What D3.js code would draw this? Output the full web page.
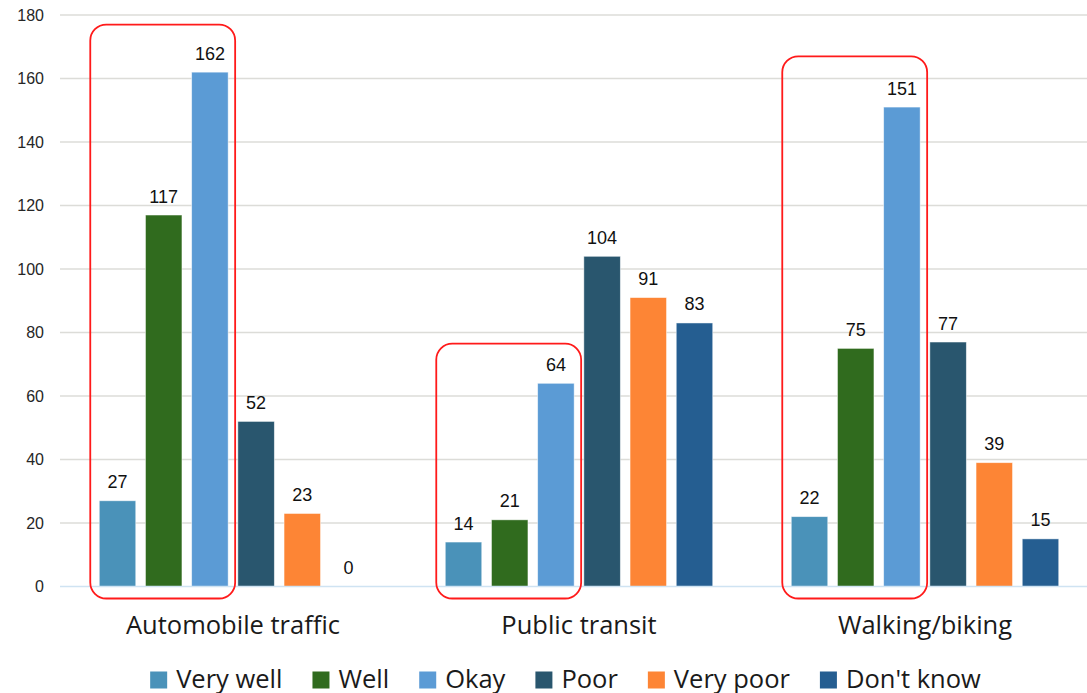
<!DOCTYPE html>
<html><head><meta charset="utf-8">
<script src="https://cdn.jsdelivr.net/npm/d3@7"></script>
<style>body{margin:0;background:#fff}svg{display:block}</style>
</head><body><svg id="c" width="1087" height="693"></svg>
<script>
const categories = ["Automobile traffic", "Public transit", "Walking/biking"];
const seriesNames = ["Very well", "Well", "Okay", "Poor", "Very poor", "Don't know"];
const veryWell = [27, 14, 22];
const well = [117, 21, 75];
const okay = [162, 64, 151];
const poor = [52, 104, 77];
const veryPoor = [23, 91, 39];
const dontKnow = [0, 83, 15];
const yTicks = [0, 20, 40, 60, 80, 100, 120, 140, 160, 180];
const highlightTop = [177, 76.5, 167]; // in value units
const colors = ["#4a92b9", "#306b1e", "#5b9bd5", "#29566e", "#fd8535", "#255e91"];

const seriesValues = [veryWell, well, okay, poor, veryPoor, dontKnow];
const svg = d3.select("#c");
const x0 = d3.scaleBand().domain(categories).range([60, 1098]).padding(0);
const x1 = d3.scaleBand().domain(seriesNames).range([0, x0.bandwidth()]).paddingInner(0.21).paddingOuter(0.85);
const y = d3.scaleLinear().domain([0, 180]).range([586.5, 15]);

// gridlines
svg.append("g").selectAll("line").data(yTicks.filter(d => d > 0)).join("line")
  .attr("x1", 60).attr("x2", 1087).attr("y1", d => y(d)).attr("y2", d => y(d))
  .attr("stroke", "#dcdcd8").attr("stroke-width", 1.5);

// y axis
const yAxis = d3.axisLeft(y).tickValues(yTicks).tickSize(0).tickPadding(0);
const ga = svg.append("g").attr("transform", "translate(44,0)").call(yAxis);
ga.select(".domain").remove();
ga.selectAll("text").attr("font-family", "Liberation Sans, Arial, sans-serif").attr("font-size", 16).attr("fill", "#262626");

// bars
const groups = svg.append("g").selectAll("g").data(categories).join("g")
  .attr("transform", d => `translate(${x0(d)},0)`);
groups.each(function(cat, ci) {
  const g = d3.select(this);
  const rows = seriesNames.map((s, si) => ({s, si, v: seriesValues[si][ci]}));
  g.selectAll("rect").data(rows).join("rect")
    .attr("x", d => x1(d.s)).attr("width", x1.bandwidth())
    .attr("y", d => y(d.v)).attr("height", d => y(0) - y(d.v))
    .attr("fill", d => colors[d.si])
    .attr("stroke", "rgba(255,255,255,0.6)").attr("stroke-width", d => d.v > 0 ? 0.8 : 0);
  g.selectAll("text.lbl").data(rows).join("text").attr("class", "lbl")
    .attr("x", d => x1(d.s) + x1.bandwidth() / 2).attr("y", d => y(d.v) - 12.5)
    .attr("text-anchor", "middle").attr("font-family", "Liberation Sans, Arial, sans-serif")
    .attr("font-size", 18).attr("fill", "#111").text(d => d.v);
});

// baseline
svg.append("line").attr("x1", 60).attr("x2", 1087).attr("y1", y(0)).attr("y2", y(0))
  .attr("stroke", "#cfe3f2").attr("stroke-width", 1.5);

// highlight boxes around first three bars
categories.forEach((cat, ci) => {
  const left = x0(cat) + x1(seriesNames[0]) - 9;
  const right = x0(cat) + x1(seriesNames[2]) + x1.bandwidth() + 7;
  const top = y(highlightTop[ci]);
  const bottom = y(0) + 12;
  svg.append("rect").attr("x", left).attr("y", top).attr("width", right - left).attr("height", bottom - top)
    .attr("rx", 16).attr("ry", 16).attr("fill", "none").attr("stroke", "#ff1a1a").attr("stroke-width", 1.8);
});

// category labels
svg.append("g").selectAll("text").data(categories).join("text")
  .attr("x", d => x0(d) + x0.bandwidth() / 2).attr("y", 634)
  .attr("text-anchor", "middle").attr("font-family", "Open Sans, Noto Sans, sans-serif")
  .attr("font-size", 25.5).attr("fill", "#1a1a1a").text(d => d);

// legend
const leg = svg.append("g");
const items = leg.selectAll("g").data(seriesNames).join("g");
items.append("rect").attr("width", 17).attr("height", 17).attr("y", -16).attr("fill", (d, i) => colors[i]);
items.append("text").attr("x", 26).attr("font-family", "Open Sans, Noto Sans, sans-serif")
  .attr("font-size", 25.5).attr("fill", "#1a1a1a").text(d => d);
let cx = 0;
const pos = [];
items.each(function() {
  const w = d3.select(this).select("text").node().getComputedTextLength();
  pos.push(cx);
  cx += 26 + w + 30;
});
const total = cx - 30;
const startX = 565.5 - total / 2;
items.attr("transform", (d, i) => `translate(${startX + pos[i]},687.5)`);
</script></body></html>
